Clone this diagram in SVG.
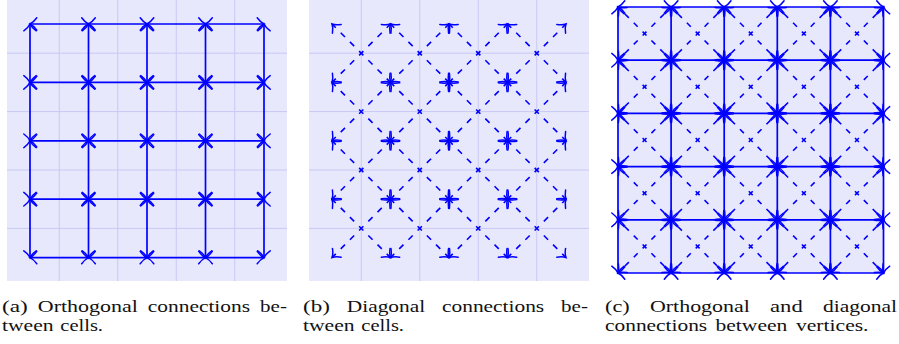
<svg xmlns="http://www.w3.org/2000/svg" xmlns:xlink="http://www.w3.org/1999/xlink" width="899" height="344" viewBox="0 0 899 344">
<style>
.bg{fill:#e8e8fd}
.grid{stroke:#c8c8f5;stroke-width:1;fill:none}
.o{stroke:#0000ff;stroke-width:1.7;fill:none;marker-start:url(#arr);marker-end:url(#arr)}
.db{stroke:#0000ff;stroke-width:1.6;fill:none;stroke-dasharray:6 7;stroke-dashoffset:0.67;marker-start:url(#arr);marker-end:url(#arr)}
.dc{stroke:#0000ff;stroke-width:1.6;fill:none;stroke-dasharray:5.5 7;stroke-dashoffset:2.67;marker-start:url(#arr);marker-end:url(#arr)}
.cap{font-family:"Liberation Serif","Times New Roman",serif;font-size:16px;fill:#111}
</style>
<defs>
<marker id="arr" markerUnits="userSpaceOnUse" orient="auto-start-reverse" overflow="visible" refX="0" refY="0" markerWidth="14" markerHeight="14">
<path d="M-6.8,-6.2 C-4,-2.3 -1.3,-0.6 0,0 C-1.3,0.6 -4,2.3 -6.8,6.2" fill="none" stroke="#0000ff" stroke-width="1.5" stroke-linecap="round" stroke-dasharray="none"/>
</marker>
<g id="aRow">
<line class="o" x1="0" y1="0" x2="58.5" y2="0"/>
<line class="o" x1="58.5" y1="0" x2="117" y2="0"/>
<line class="o" x1="117" y1="0" x2="175.5" y2="0"/>
<line class="o" x1="175.5" y1="0" x2="234" y2="0"/>
</g>
<g id="aCol">
<line class="o" x1="0" y1="0" x2="0" y2="58.4"/>
<line class="o" x1="0" y1="58.4" x2="0" y2="116.8"/>
<line class="o" x1="0" y1="116.8" x2="0" y2="175.2"/>
<line class="o" x1="0" y1="175.2" x2="0" y2="233.6"/>
</g>
<g id="bRow">
<line class="db" x1="0" y1="0" x2="58.5" y2="58.4"/>
<line class="db" x1="58.5" y1="0" x2="0" y2="58.4"/>
<line class="db" x1="58.5" y1="0" x2="117" y2="58.4"/>
<line class="db" x1="117" y1="0" x2="58.5" y2="58.4"/>
<line class="db" x1="117" y1="0" x2="175.5" y2="58.4"/>
<line class="db" x1="175.5" y1="0" x2="117" y2="58.4"/>
<line class="db" x1="175.5" y1="0" x2="234" y2="58.4"/>
<line class="db" x1="234" y1="0" x2="175.5" y2="58.4"/>
</g>
<g id="cRow">
<line class="o" x1="0" y1="0" x2="53.1" y2="0"/>
<line class="o" x1="53.1" y1="0" x2="106.2" y2="0"/>
<line class="o" x1="106.2" y1="0" x2="159.3" y2="0"/>
<line class="o" x1="159.3" y1="0" x2="212.4" y2="0"/>
<line class="o" x1="212.4" y1="0" x2="265.5" y2="0"/>
</g>
<g id="cCol">
<line class="o" x1="0" y1="0" x2="0" y2="53.2"/>
<line class="o" x1="0" y1="53.2" x2="0" y2="106.4"/>
<line class="o" x1="0" y1="106.4" x2="0" y2="159.6"/>
<line class="o" x1="0" y1="159.6" x2="0" y2="212.8"/>
<line class="o" x1="0" y1="212.8" x2="0" y2="266"/>
</g>
<g id="cDiag">
<line class="dc" x1="0" y1="0" x2="53.1" y2="53.2"/>
<line class="dc" x1="53.1" y1="0" x2="0" y2="53.2"/>
<line class="dc" x1="53.1" y1="0" x2="106.2" y2="53.2"/>
<line class="dc" x1="106.2" y1="0" x2="53.1" y2="53.2"/>
<line class="dc" x1="106.2" y1="0" x2="159.3" y2="53.2"/>
<line class="dc" x1="159.3" y1="0" x2="106.2" y2="53.2"/>
<line class="dc" x1="159.3" y1="0" x2="212.4" y2="53.2"/>
<line class="dc" x1="212.4" y1="0" x2="159.3" y2="53.2"/>
<line class="dc" x1="212.4" y1="0" x2="265.5" y2="53.2"/>
<line class="dc" x1="265.5" y1="0" x2="212.4" y2="53.2"/>
</g>
</defs>

<g id="panel-a">
<g id="a-background">
<rect class="bg" x="7" y="0" width="280" height="281"/>
<path class="grid" d="M59.25,0V281M117.75,0V281M176.25,0V281M234.75,0V281M7,53.2H287M7,111.6H287M7,170H287M7,228.4H287"/>
</g>
<g id="a-connectors">
<use xlink:href="#aRow" href="#aRow" transform="translate(30,24)"/>
<use xlink:href="#aRow" href="#aRow" transform="translate(30,82.4)"/>
<use xlink:href="#aRow" href="#aRow" transform="translate(30,140.8)"/>
<use xlink:href="#aRow" href="#aRow" transform="translate(30,199.2)"/>
<use xlink:href="#aRow" href="#aRow" transform="translate(30,257.6)"/>
<use xlink:href="#aCol" href="#aCol" transform="translate(30,24)"/>
<use xlink:href="#aCol" href="#aCol" transform="translate(88.5,24)"/>
<use xlink:href="#aCol" href="#aCol" transform="translate(147,24)"/>
<use xlink:href="#aCol" href="#aCol" transform="translate(205.5,24)"/>
<use xlink:href="#aCol" href="#aCol" transform="translate(264,24)"/>
</g>
<g id="a-caption" class="cap">
<text x="2" y="311.5" textLength="25.8" lengthAdjust="spacingAndGlyphs">(a)</text>
<text x="37.8" y="311.5" textLength="100" lengthAdjust="spacingAndGlyphs">Orthogonal</text>
<text x="147.8" y="311.5" textLength="102.2" lengthAdjust="spacingAndGlyphs">connections</text>
<text x="260.1" y="311.5" textLength="26.9" lengthAdjust="spacingAndGlyphs">be-</text>
<text x="2" y="331" textLength="51.6" lengthAdjust="spacingAndGlyphs">tween</text>
<text x="60.3" y="331" textLength="42.7" lengthAdjust="spacingAndGlyphs">cells.</text>
</g>
</g>

<g id="panel-b">
<g id="b-background">
<rect class="bg" x="309" y="0" width="280" height="281"/>
<path class="grid" d="M361.25,0V281M419.75,0V281M478.25,0V281M536.75,0V281M309,53.2H589M309,111.6H589M309,170H589M309,228.4H589"/>
</g>
<g id="b-connectors">
<use xlink:href="#bRow" href="#bRow" transform="translate(332,24)"/>
<use xlink:href="#bRow" href="#bRow" transform="translate(332,82.4)"/>
<use xlink:href="#bRow" href="#bRow" transform="translate(332,140.8)"/>
<use xlink:href="#bRow" href="#bRow" transform="translate(332,199.2)"/>
</g>
<g id="b-caption" class="cap">
<text x="303" y="311.5" textLength="26.9" lengthAdjust="spacingAndGlyphs">(b)</text>
<text x="346.8" y="311.5" textLength="78.3" lengthAdjust="spacingAndGlyphs">Diagonal</text>
<text x="442" y="311.5" textLength="102.2" lengthAdjust="spacingAndGlyphs">connections</text>
<text x="561.1" y="311.5" textLength="26.9" lengthAdjust="spacingAndGlyphs">be-</text>
<text x="303" y="331" textLength="51.6" lengthAdjust="spacingAndGlyphs">tween</text>
<text x="361.3" y="331" textLength="42.7" lengthAdjust="spacingAndGlyphs">cells.</text>
</g>
</g>

<g id="panel-c">
<g id="c-background">
<rect class="bg" x="618" y="7" width="265.5" height="266"/>
</g>
<g id="c-connectors">
<use xlink:href="#cDiag" href="#cDiag" transform="translate(618,7)"/>
<use xlink:href="#cDiag" href="#cDiag" transform="translate(618,60.2)"/>
<use xlink:href="#cDiag" href="#cDiag" transform="translate(618,113.4)"/>
<use xlink:href="#cDiag" href="#cDiag" transform="translate(618,166.6)"/>
<use xlink:href="#cDiag" href="#cDiag" transform="translate(618,219.8)"/>
<use xlink:href="#cRow" href="#cRow" transform="translate(618,7)"/>
<use xlink:href="#cRow" href="#cRow" transform="translate(618,60.2)"/>
<use xlink:href="#cRow" href="#cRow" transform="translate(618,113.4)"/>
<use xlink:href="#cRow" href="#cRow" transform="translate(618,166.6)"/>
<use xlink:href="#cRow" href="#cRow" transform="translate(618,219.8)"/>
<use xlink:href="#cRow" href="#cRow" transform="translate(618,273)"/>
<use xlink:href="#cCol" href="#cCol" transform="translate(618,7)"/>
<use xlink:href="#cCol" href="#cCol" transform="translate(671.1,7)"/>
<use xlink:href="#cCol" href="#cCol" transform="translate(724.2,7)"/>
<use xlink:href="#cCol" href="#cCol" transform="translate(777.3,7)"/>
<use xlink:href="#cCol" href="#cCol" transform="translate(830.4,7)"/>
<use xlink:href="#cCol" href="#cCol" transform="translate(883.5,7)"/>
</g>
<g id="c-caption" class="cap">
<text x="605" y="311.5" textLength="24.7" lengthAdjust="spacingAndGlyphs">(c)</text>
<text x="649.9" y="311.5" textLength="100" lengthAdjust="spacingAndGlyphs">Orthogonal</text>
<text x="770.1" y="311.5" textLength="32.6" lengthAdjust="spacingAndGlyphs">and</text>
<text x="822.9" y="311.5" textLength="74.1" lengthAdjust="spacingAndGlyphs">diagonal</text>
<text x="605" y="331" textLength="102.2" lengthAdjust="spacingAndGlyphs">connections</text>
<text x="715.5" y="331" textLength="71.8" lengthAdjust="spacingAndGlyphs">between</text>
<text x="796" y="331" textLength="72.5" lengthAdjust="spacingAndGlyphs">vertices.</text>
</g>
</g>
</svg>
